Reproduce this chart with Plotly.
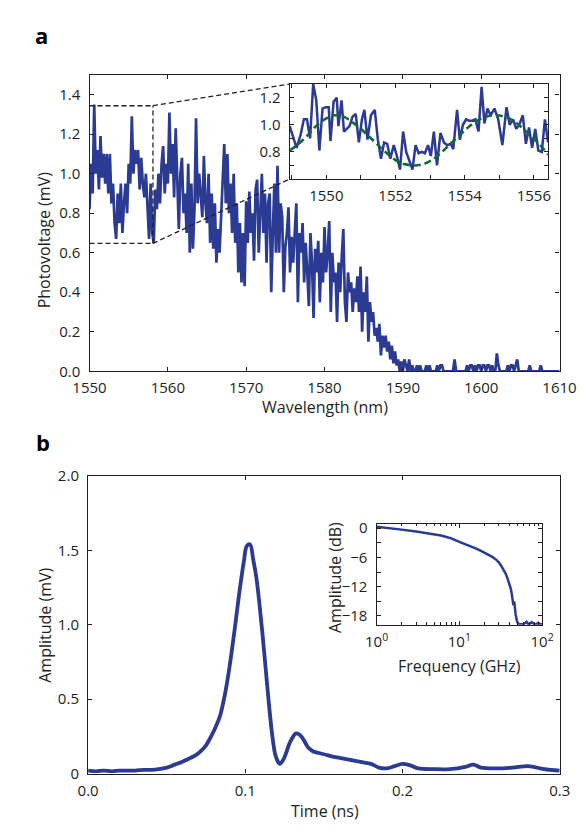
import plotly.graph_objects as go

W, H = 585, 826
BLUE = "#2b3a93"
GREEN = "#0e6b38"
INK = "#231f20"
FONT = "Open Sans"

# ---- panel a: photovoltage spectrum (0.2 nm steps from 1550 nm) ----
wl_start, wl_step = 1550.0, 0.2
photovoltage = [
    0.82, 1.05, 0.90, 1.35, 1.00, 1.12, 0.92, 1.19, 0.98, 1.10,
    0.95, 1.10, 0.90, 1.10, 0.85, 0.95, 0.75, 0.67, 0.90, 0.75,
    0.95, 0.70, 0.85, 0.95, 0.80, 1.05, 0.95, 1.29, 1.00, 1.12,
    1.05, 1.12, 0.92, 1.08, 0.95, 0.88, 1.00, 0.80, 0.67, 0.95,
    0.70, 0.65, 0.92, 0.82, 1.00, 0.85, 1.05, 1.14, 0.90, 1.05,
    0.95, 1.31, 1.00, 1.15, 0.88, 1.23, 0.95, 0.72, 1.00, 1.08,
    0.80, 0.90, 0.70, 1.05, 0.60, 0.95, 0.62, 0.82, 1.28, 0.85,
    1.00, 0.90, 0.78, 1.09, 0.85, 0.75, 1.00, 0.65, 0.90, 0.62,
    0.85, 0.55, 0.72, 0.60, 0.80, 1.00, 1.15, 0.85, 1.10, 0.80,
    0.95, 0.70, 1.00, 0.65, 0.85, 0.50, 0.75, 0.45, 0.70, 0.43,
    0.86, 0.65, 0.91, 0.70, 0.80, 0.56, 0.92, 0.97, 0.60, 0.80,
    1.00, 0.70, 0.90, 0.55, 0.85, 0.90, 0.40, 0.70, 0.95, 0.60,
    1.04, 0.60, 0.85, 0.78, 0.40, 0.63, 0.70, 0.83, 0.50, 0.68,
    0.55, 0.70, 0.85, 0.35, 0.70, 0.60, 0.75, 0.45, 0.65, 0.50,
    0.33, 0.70, 0.55, 0.27, 0.62, 0.50, 0.66, 0.35, 0.60, 0.45,
    0.73, 0.50, 0.60, 0.76, 0.30, 0.60, 0.45, 0.50, 0.25, 0.55,
    0.40, 0.58, 0.72, 0.35, 0.25, 0.50, 0.40, 0.45, 0.30, 0.42,
    0.35, 0.48, 0.30, 0.53, 0.20, 0.40, 0.30, 0.48, 0.15, 0.35,
    0.25, 0.30, 0.18, 0.22, 0.15, 0.24, 0.08, 0.18, 0.12, 0.18,
    0.10, 0.15, 0.06, 0.13, 0.04, 0.10, 0.03, 0.06, 0.00, 0.05,
    0.00, 0.06, 0.03, 0.00, 0.06, 0.00, 0.03, 0.00, 0.00, 0.03,
    0.00, 0.03, 0.00, 0.00, 0.00, 0.03, 0.00, 0.03, 0.00, 0.00,
    0.00, 0.00, 0.03, 0.00, 0.03, 0.03, 0.00, 0.00, 0.00, 0.00,
    0.00, 0.00, 0.00, 0.06, 0.00, 0.00, 0.00, 0.00, 0.00, 0.00,
    0.00, 0.03, 0.00, 0.03, 0.03, 0.00, 0.03, 0.00, 0.03, 0.03,
    0.00, 0.03, 0.03, 0.00, 0.03, 0.03, 0.00, 0.03, 0.00, 0.00,
    0.09, 0.03, 0.00, 0.00, 0.00, 0.00, 0.00, 0.03, 0.00, 0.03,
    0.03, 0.00, 0.03, 0.06, 0.00, 0.00, 0.00, 0.00, 0.00, 0.00,
    0.00, 0.03, 0.00, 0.00, 0.00, 0.00, 0.00, 0.00, 0.03, 0.00,
    0.00, 0.00, 0.00, 0.00, 0.00, 0.00, 0.00, 0.00, 0.00, 0.00,
    0.00,
]
wavelength = [round(wl_start + i * wl_step, 1) for i in range(len(photovoltage))]

# ---- panel a inset: zoomed spectrum and sinusoidal fit ----
inset_wl = [
    1548.94, 1549.03, 1549.14, 1549.26, 1549.35, 1549.44, 1549.53, 1549.62, 1549.71, 1549.80,
    1549.89, 1549.98, 1550.07, 1550.12, 1550.21, 1550.30, 1550.35, 1550.44, 1550.51, 1550.67,
    1550.76, 1550.85, 1550.94, 1551.03, 1551.10, 1551.19, 1551.29, 1551.40, 1551.49, 1551.58,
    1551.67, 1551.76, 1551.85, 1551.95, 1552.04, 1552.13, 1552.22, 1552.31, 1552.40, 1552.49,
    1552.58, 1552.67, 1552.76, 1552.85, 1552.94, 1553.02, 1553.11, 1553.20, 1553.30, 1553.40,
    1553.49, 1553.60, 1553.67, 1553.78, 1553.86, 1553.95, 1554.04, 1554.13, 1554.22, 1554.31,
    1554.40, 1554.49, 1554.57, 1554.66, 1554.75, 1554.86, 1554.97, 1555.09, 1555.21, 1555.30,
    1555.40, 1555.49, 1555.58, 1555.68, 1555.77, 1555.86, 1555.95, 1556.04, 1556.13, 1556.23,
    1556.32, 1556.41,
]
inset_pv = [
    0.99, 0.91, 0.83, 0.93, 1.04, 1.04, 0.90, 1.30, 1.18, 0.81,
    1.12, 1.13, 1.13, 0.88, 1.17, 1.20, 0.99, 1.18, 0.95, 0.99,
    1.06, 1.08, 0.87, 1.04, 1.11, 0.89, 1.07, 1.11, 0.89, 0.75,
    0.87, 0.86, 0.75, 0.85, 0.77, 0.67, 0.95, 0.80, 0.74, 0.67,
    0.85, 0.79, 0.80, 0.79, 0.85, 0.77, 0.95, 0.70, 0.94, 0.87,
    0.85, 0.86, 0.82, 1.11, 0.89, 1.00, 1.04, 1.03, 1.03, 1.04,
    0.95, 1.28, 1.01, 1.12, 1.07, 1.12, 1.04, 0.85, 1.13, 1.00,
    1.04, 0.97, 1.00, 1.07, 0.86, 0.98, 0.83, 0.97, 0.81, 0.80,
    1.04, 0.87,
]
fit_wl = [
    1548.94, 1549.20, 1549.45, 1549.70, 1549.95, 1550.25, 1550.50, 1550.75, 1551.00, 1551.25,
    1551.50, 1551.75, 1552.00, 1552.25, 1552.55, 1552.80, 1553.05, 1553.30, 1553.55, 1553.80,
    1554.05, 1554.30, 1554.60, 1554.90, 1555.15, 1555.40, 1555.65, 1555.90, 1556.15, 1556.41,
]
fit_pv = [
    0.81, 0.86, 0.92, 0.99, 1.04, 1.07, 1.06, 1.02, 0.97, 0.91,
    0.85, 0.79, 0.74, 0.71, 0.70, 0.71, 0.74, 0.79, 0.85, 0.91,
    0.97, 1.02, 1.06, 1.07, 1.06, 1.03, 0.98, 0.92, 0.86, 0.78,
]

# ---- panel b: pulse response ----
time_ns = [
    0.000, 0.005, 0.010, 0.015, 0.020, 0.025, 0.030, 0.035, 0.040, 0.045,
    0.050, 0.055, 0.060, 0.064, 0.068, 0.072, 0.075, 0.078, 0.081, 0.084,
    0.087, 0.090, 0.093, 0.096, 0.099, 0.101, 0.103, 0.105, 0.107, 0.109,
    0.111, 0.113, 0.115, 0.117, 0.119, 0.121, 0.122, 0.124, 0.126, 0.128,
    0.130, 0.132, 0.134, 0.136, 0.138, 0.140, 0.143, 0.146, 0.150, 0.155,
    0.160, 0.165, 0.170, 0.175, 0.180, 0.185, 0.190, 0.195, 0.200, 0.205,
    0.210, 0.220, 0.230, 0.240, 0.245, 0.250, 0.260, 0.270, 0.280, 0.290,
    0.300,
]
amplitude_mv = [
    0.020, 0.015, 0.020, 0.015, 0.020, 0.020, 0.020, 0.025, 0.025, 0.030,
    0.040, 0.060, 0.080, 0.100, 0.120, 0.155, 0.190, 0.245, 0.310, 0.390,
    0.530, 0.720, 0.950, 1.200, 1.420, 1.530, 1.540, 1.440, 1.320, 1.140,
    0.930, 0.700, 0.470, 0.270, 0.130, 0.075, 0.065, 0.090, 0.140, 0.200,
    0.240, 0.270, 0.265, 0.245, 0.210, 0.175, 0.150, 0.140, 0.130, 0.115,
    0.105, 0.095, 0.085, 0.075, 0.065, 0.040, 0.035, 0.050, 0.065, 0.055,
    0.035, 0.030, 0.030, 0.045, 0.060, 0.040, 0.035, 0.040, 0.050, 0.030,
    0.020,
]

# ---- panel b inset: frequency response ----
freq_ghz = [
    1.0, 1.5, 2, 3, 4, 5, 6, 7, 8, 10,
    12, 14, 16, 18, 20, 22, 25, 28, 30, 32,
    34, 36, 38, 40, 42, 43, 44, 45, 46, 47,
    48, 50, 52, 55, 60, 65, 68, 70, 75, 80,
    85, 90, 95, 100,
]
amplitude_db = [
    0.3, 0.0, -0.3, -0.7, -1.0, -1.2, -1.5, -1.8, -2.1, -2.8,
    -3.3, -3.8, -4.2, -4.6, -5.0, -5.4, -5.9, -6.5, -7.0, -7.7,
    -8.4, -9.2, -10.2, -11.3, -12.5, -13.5, -14.6, -15.8, -15.0, -16.5,
    -17.8, -19.2, -19.7, -19.7, -19.7, -19.2, -19.7, -19.7, -19.3, -19.7,
    -19.7, -19.4, -19.7, -19.7,
]


def dom_x(left, right):
    return [left / W, right / W]


def dom_y(top, bottom):
    return [1 - bottom / H, 1 - top / H]


A_X, A_Y = dom_x(68.5, 567.5), dom_y(57.3, 361)
AI_X, AI_Y = dom_x(281, 555.3), dom_y(66.7, 164)
B_X, B_Y = dom_x(67, 567.7), dom_y(468.3, 773.3)
BI_X, BI_Y = dom_x(373.3, 549), dom_y(517.3, 620.7)

A_XR, A_YR = [1550, 1610], [0, 1.5]

fig = go.Figure()
fig.add_trace(go.Scatter(x=wavelength, y=photovoltage, mode="lines",
                         line=dict(color=BLUE, width=2.7), xaxis="x", yaxis="y"))
fig.add_trace(go.Scatter(x=inset_wl, y=inset_pv, mode="lines",
                         line=dict(color=BLUE, width=2.5), xaxis="x2", yaxis="y2"))
fig.add_trace(go.Scatter(x=fit_wl, y=fit_pv, mode="lines", line_shape="spline",
                         line=dict(color=GREEN, width=2.6, dash="7px,4px"), xaxis="x2", yaxis="y2"))
fig.add_trace(go.Scatter(x=time_ns, y=amplitude_mv, mode="lines", line_shape="spline",
                         line=dict(color=BLUE, width=3.8), xaxis="x3", yaxis="y3"))
fig.add_trace(go.Scatter(x=freq_ghz, y=amplitude_db, mode="lines",
                         line=dict(color=BLUE, width=2.5), xaxis="x4", yaxis="y4"))

tickfont = dict(family=FONT, size=15, color=INK)
axis_common = dict(showline=True, linecolor=INK, linewidth=1.3, mirror="ticks",
                   ticks="inside", ticklen=4, tickwidth=1.2, tickcolor=INK,
                   showgrid=False, zeroline=False, tickfont=tickfont)
x_common = dict(axis_common, ticklabelstandoff=3)
y_common = dict(axis_common, ticklabelstandoff=5)

fig.update_layout(
    width=W, height=H, margin=dict(l=0, r=0, t=0, b=0),
    paper_bgcolor="white", plot_bgcolor="white", showlegend=False,
    font=dict(family=FONT, color=INK),
    xaxis=dict(domain=A_X, anchor="y", range=A_XR, tickvals=[1550, 1560, 1570, 1580, 1590, 1600, 1610],
               **x_common),
    yaxis=dict(domain=A_Y, anchor="x", range=A_YR, tickvals=[0, 0.2, 0.4, 0.6, 0.8, 1.0, 1.2, 1.4],
               tickformat=".1f", **y_common),
    xaxis2=dict(domain=AI_X, anchor="y2", range=[1548.94, 1556.41], tickvals=[1550, 1552, 1554, 1556],
                minor=dict(dtick=1, tick0=1549, ticks="inside", ticklen=4, tickcolor=INK),
                **x_common),
    yaxis2=dict(domain=AI_Y, anchor="x2", range=[0.6, 1.3], tickvals=[0.8, 1.0, 1.2], tickformat=".1f",
                minor=dict(dtick=0.1, tick0=0.6, ticks="inside", ticklen=4, tickcolor=INK),
                **y_common),
    xaxis3=dict(domain=B_X, anchor="y3", range=[0, 0.3], tickvals=[0, 0.1, 0.2, 0.3],
                ticktext=["0.0", "0.1", "0.2", "0.3"], **x_common),
    yaxis3=dict(domain=B_Y, anchor="x3", range=[0, 2.0], tickvals=[0, 0.5, 1.0, 1.5, 2.0],
                ticktext=["0", "0.5", "1.0", "1.5", "2.0"], **y_common),
    xaxis4=dict(domain=BI_X, anchor="y4", type="log", range=[0, 2], tickvals=[1, 10, 100],
                ticktext=["10<sup>0</sup>", "10<sup>1</sup>", "10<sup>2</sup>"],
                minor=dict(tickvals=[2, 3, 4, 5, 6, 7, 8, 9, 20, 30, 40, 50, 60, 70, 80, 90],
                           ticks="inside", ticklen=2.5, tickcolor=INK),
                **x_common),
    yaxis4=dict(domain=BI_Y, anchor="x4", range=[-19.8, 0.9], tickvals=[0, -6, -12, -18],
                minor=dict(tickvals=[-3, -9, -15], ticks="inside", ticklen=4, tickcolor=INK),
                **y_common),
)

# zoom box in panel a and connectors to the inset corners
box_x1, box_y0, box_y1 = 1558.1, 0.647, 1.344
inset_x = A_XR[0] + (AI_X[0] - A_X[0]) / (A_X[1] - A_X[0]) * (A_XR[1] - A_XR[0])
inset_ytop = A_YR[0] + (AI_Y[1] - A_Y[0]) / (A_Y[1] - A_Y[0]) * (A_YR[1] - A_YR[0])
inset_ybot = A_YR[0] + (AI_Y[0] - A_Y[0]) / (A_Y[1] - A_Y[0]) * (A_YR[1] - A_YR[0])
dash_line = dict(color=INK, width=1.3, dash="5px,3px")
for x0, y0, x1, y1 in [
    (1550, box_y1, box_x1, box_y1),
    (1550, box_y0, box_x1, box_y0),
    (box_x1, box_y0, box_x1, box_y1),
    (box_x1, box_y1, inset_x, inset_ytop),
    (box_x1, box_y0, inset_x, inset_ybot),
]:
    fig.add_shape(type="line", xref="x", yref="y", x0=x0, y0=y0, x1=x1, y1=y1, line=dash_line)

# axis titles and panel letters
title_font = dict(family=FONT, size=16, color=INK)
texts = [
    ("Wavelength (nm)", 318, 398, 0),
    ("Photovoltage (mV)", 20, 226, -90),
    ("Time (ns)", 318, 812, 0),
    ("Amplitude (mV)", 21, 621, -90),
    ("Frequency (GHz)", 461, 663, 0),
    ("Amplitude (dB)", 329, 572, -90),
]
for txt, px, py, ang in texts:
    fig.add_annotation(text=txt, x=px / W, y=1 - py / H, xref="paper", yref="paper",
                       showarrow=False, textangle=ang, font=title_font,
                       xanchor="center", yanchor="middle")
for letter, px, py in [("a", 18, 16), ("b", 19, 433)]:
    fig.add_annotation(text="<b>%s</b>" % letter, x=px / W, y=1 - py / H, xref="paper", yref="paper",
                       showarrow=False, font=dict(family=FONT, size=22, color="black"),
                       xanchor="center", yanchor="middle")

fig.write_html("out.html")
